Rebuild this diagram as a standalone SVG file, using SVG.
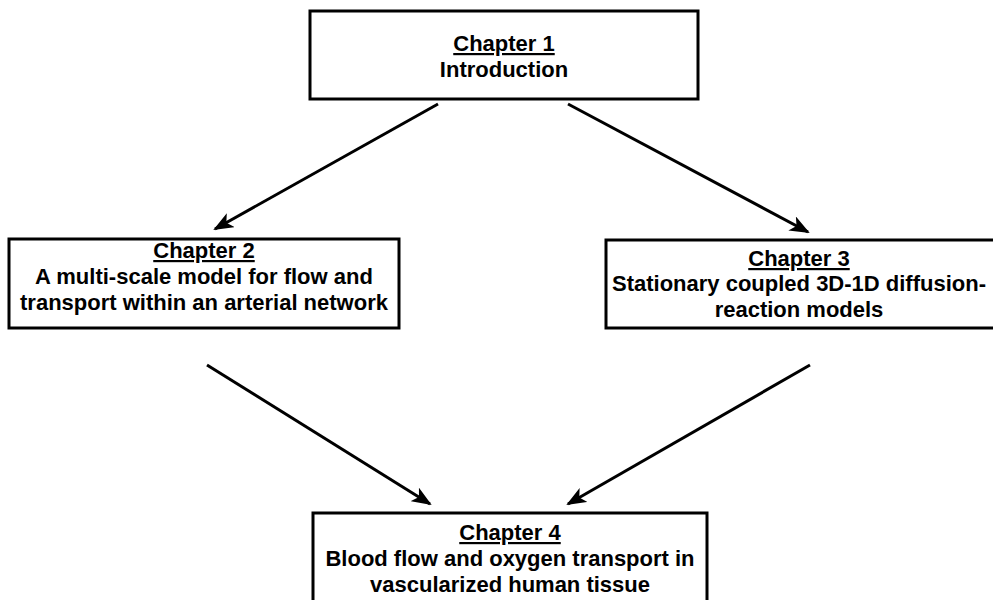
<svg xmlns="http://www.w3.org/2000/svg" width="993" height="600" viewBox="0 0 993 600">
<style>
.box{fill:#fff;stroke:#000;stroke-width:3}
.t{font-family:"Liberation Sans",Arial,sans-serif;font-weight:bold;font-size:22px;fill:#000;text-anchor:middle}
.u{text-decoration:underline}
.c{stroke:#000;stroke-width:3;fill:none;marker-end:url(#ah)}
</style>
<defs>
<marker id="ah" markerUnits="userSpaceOnUse" viewBox="0 0 20 16" refX="18" refY="8" markerWidth="20" markerHeight="16" orient="auto">
<path d="M0,0 L20,8 L0,16 L5,8 Z" fill="#000"/>
</marker>
</defs>
<rect width="993" height="600" fill="#fff"/>
<g id="connectors">
<line class="c" x1="438" y1="104" x2="215" y2="229"/>
<line class="c" x1="568" y1="104" x2="808" y2="232"/>
<line class="c" x1="207" y1="365" x2="430" y2="504"/>
<line class="c" x1="810" y1="365" x2="568" y2="504"/>
</g>
<g id="ch1">
<rect class="box" x="310" y="11" width="388" height="88"/>
<text class="t u" x="504" y="51">Chapter 1</text>
<text class="t" x="504" y="77">Introduction</text>
</g>
<g id="ch2">
<rect class="box" x="9" y="239" width="390" height="89"/>
<text class="t u" x="204" y="258">Chapter 2</text>
<text class="t" x="204" y="284">A multi-scale model for flow and</text>
<text class="t" x="204" y="310">transport within an arterial network</text>
</g>
<g id="ch3">
<rect class="box" x="606" y="240" width="392" height="88"/>
<text class="t u" x="799" y="266">Chapter 3</text>
<text class="t" x="799" y="291">Stationary coupled 3D-1D diffusion-</text>
<text class="t" x="799" y="317">reaction models</text>
</g>
<g id="ch4">
<rect class="box" x="313" y="513" width="394" height="92"/>
<text class="t u" x="510" y="540">Chapter 4</text>
<text class="t" x="510" y="566">Blood flow and oxygen transport in</text>
<text class="t" x="510" y="592">vascularized human tissue</text>
</g>
</svg>
